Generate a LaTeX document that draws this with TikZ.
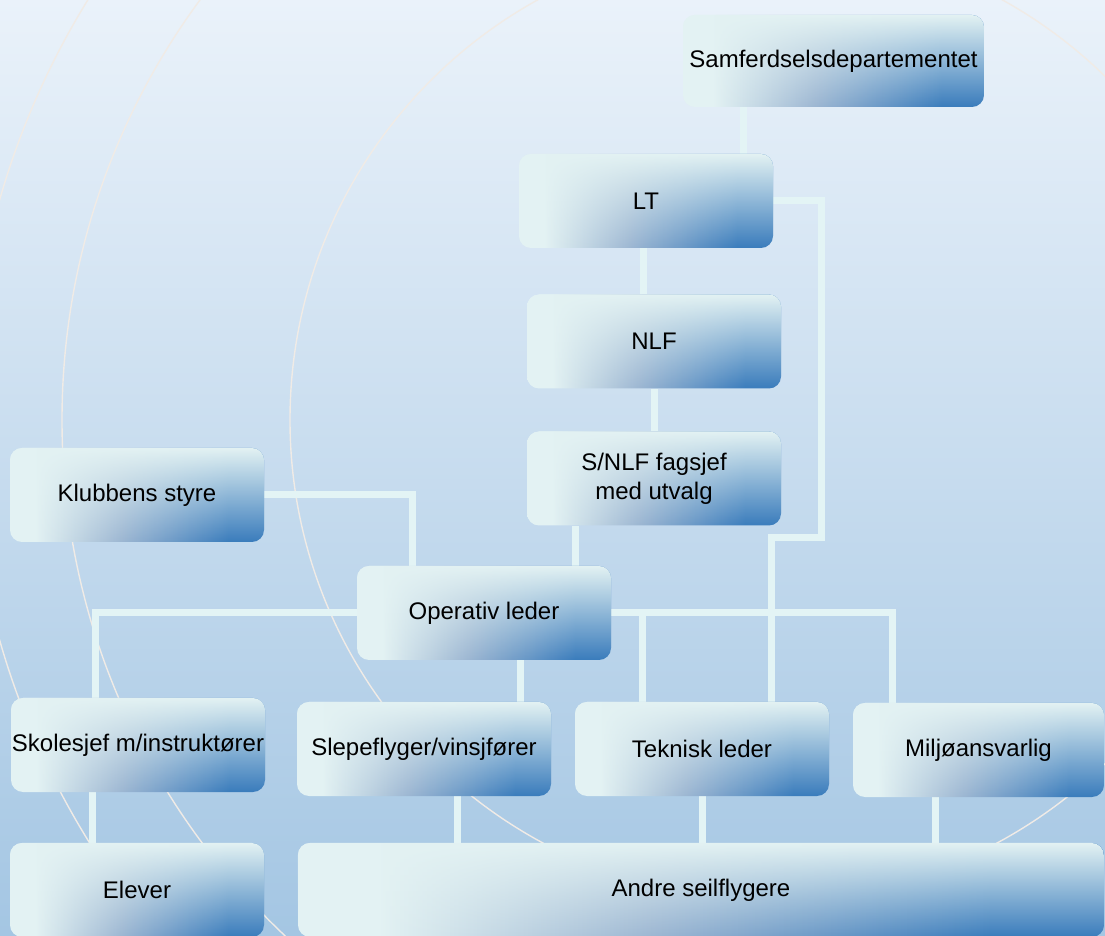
\documentclass[tikz,border=0pt]{standalone}
\usepackage{fontspec}
\setmainfont{Liberation Sans}
\usetikzlibrary{fadings}

\definecolor{bgtop}{HTML}{EAF2FA}
\definecolor{bgbottom}{HTML}{A4C6E3}
\definecolor{boxlight}{HTML}{E3F2F3}
\definecolor{boxmid}{HTML}{9CB6D2}
\definecolor{boxblue}{HTML}{3A7CBC}
\definecolor{linkcol}{HTML}{E3F4F5}
\definecolor{ringcol}{HTML}{F0EBE6}

% light on the left, blue towards the right; the fading keeps the top light
\pgfdeclarehorizontalshading{boxshade}{100bp}{color(0bp)=(boxlight); color(30bp)=(boxlight); color(47bp)=(boxmid); color(68bp)=(boxblue); color(100bp)=(boxblue)}
\tikzfading[name=boxfade, top color=transparent!0, middle color=transparent!60, bottom color=transparent!100]

\pgfdeclarelayer{back}
\pgfsetlayers{back,main}

\tikzset{
  orgbox/.style={rounded corners=6pt, minimum width=127pt, minimum height=47pt,
    inner sep=0pt, align=center, font=\fontsize{12}{14.5}\selectfont,
    shade, shading=boxshade, postaction={fill=boxlight, path fading=boxfade}},
  link/.style={draw=linkcol, line width=3.5pt},
  ring/.style={draw=ringcol, line width=0.7pt}
}

\begin{document}
\begin{tikzpicture}[x=0.5pt, y=-0.5pt]
\useasboundingbox (0,0) rectangle (1105,936);

% boxes
\node[orgbox, minimum width=150.5pt, minimum height=46pt] (samf) at (833.5,61) {Samferdselsdepartementet};
\node[orgbox] (lt) at (646,201) {LT};
\node[orgbox] (nlf) at (654,341.5) {NLF};
\node[orgbox] (snlf) at (654,478.5) {S/NLF fagsjef\\med utvalg};
\node[orgbox] (klubb) at (137,495) {Klubbens styre};
\node[orgbox] (oper) at (484,613) {Operativ leder};
\node[orgbox] (skole) at (138,745) {Skolesjef m/instruktører};
\node[orgbox] (slep) at (424,749) {Slepeflyger/vinsjfører};
\node[orgbox] (tekn) at (702,749) {Teknisk leder};
\node[orgbox, minimum width=125.5pt] (milj) at (978.5,750) {Miljøansvarlig};
\node[orgbox] (elev) at (137,890) {Elever};
\node[orgbox, minimum width=403pt] (andre) at (701,890) {Andre seilflygere};

% columns and bends of the links
\coordinate (c-samf) at (743.5,0);
\coordinate (c-lt) at (643,0);
\coordinate (c-nlf) at (654.5,0);
\coordinate (c-snlf) at (575,0);
\coordinate (c-oper) at (520,0);
\coordinate (c-skole) at (92.5,0);
\coordinate (c-slep) at (457,0);
\coordinate (c-tekn) at (702,0);
\coordinate (c-milj) at (935,0);
\coordinate (c-ltdown) at (771,0);
\coordinate (c-busleft) at (95.5,0);
\coordinate (c-bustekn) at (642,0);
\coordinate (c-busmilj) at (892,0);
\coordinate (ltbend) at (821,538);
\coordinate (klubbbend) at (412,495);

\begin{pgfonlayer}{back}
\shade[top color=bgtop, bottom color=bgbottom] (0,0) rectangle (1105,936);
\begin{scope}
\clip (0,0) rectangle (1105,936);
\foreach \r in {240pt,354pt,400.5pt}
  \draw[ring] (770,420) circle [radius=\r];
\end{scope}

\draw[link] (samf.south -| c-samf) -- (lt.north -| c-samf);
\draw[link] (lt.south -| c-lt) -- (nlf.north -| c-lt);
\draw[link] (nlf.south -| c-nlf) -- (snlf.north -| c-nlf);
\draw[link] (snlf.south -| c-snlf) -- (oper.north -| c-snlf);
\draw[link] (lt.east) -| (ltbend) -| (tekn.north -| c-ltdown);
\draw[link] (klubb.east) -| (oper.north -| klubbbend);
\draw[link] (oper.west) -| (skole.north -| c-busleft);
\draw[link] (oper.east) -| (milj.north -| c-busmilj);
\draw[link] (oper.east -| c-bustekn) -- (tekn.north -| c-bustekn);
\draw[link] (oper.south -| c-oper) -- (slep.north -| c-oper);
\draw[link] (skole.south -| c-skole) -- (elev.north -| c-skole);
\draw[link] (slep.south -| c-slep) -- (andre.north -| c-slep);
\draw[link] (tekn.south -| c-tekn) -- (andre.north -| c-tekn);
\draw[link] (milj.south -| c-milj) -- (andre.north -| c-milj);
\end{pgfonlayer}
\end{tikzpicture}
\end{document}
